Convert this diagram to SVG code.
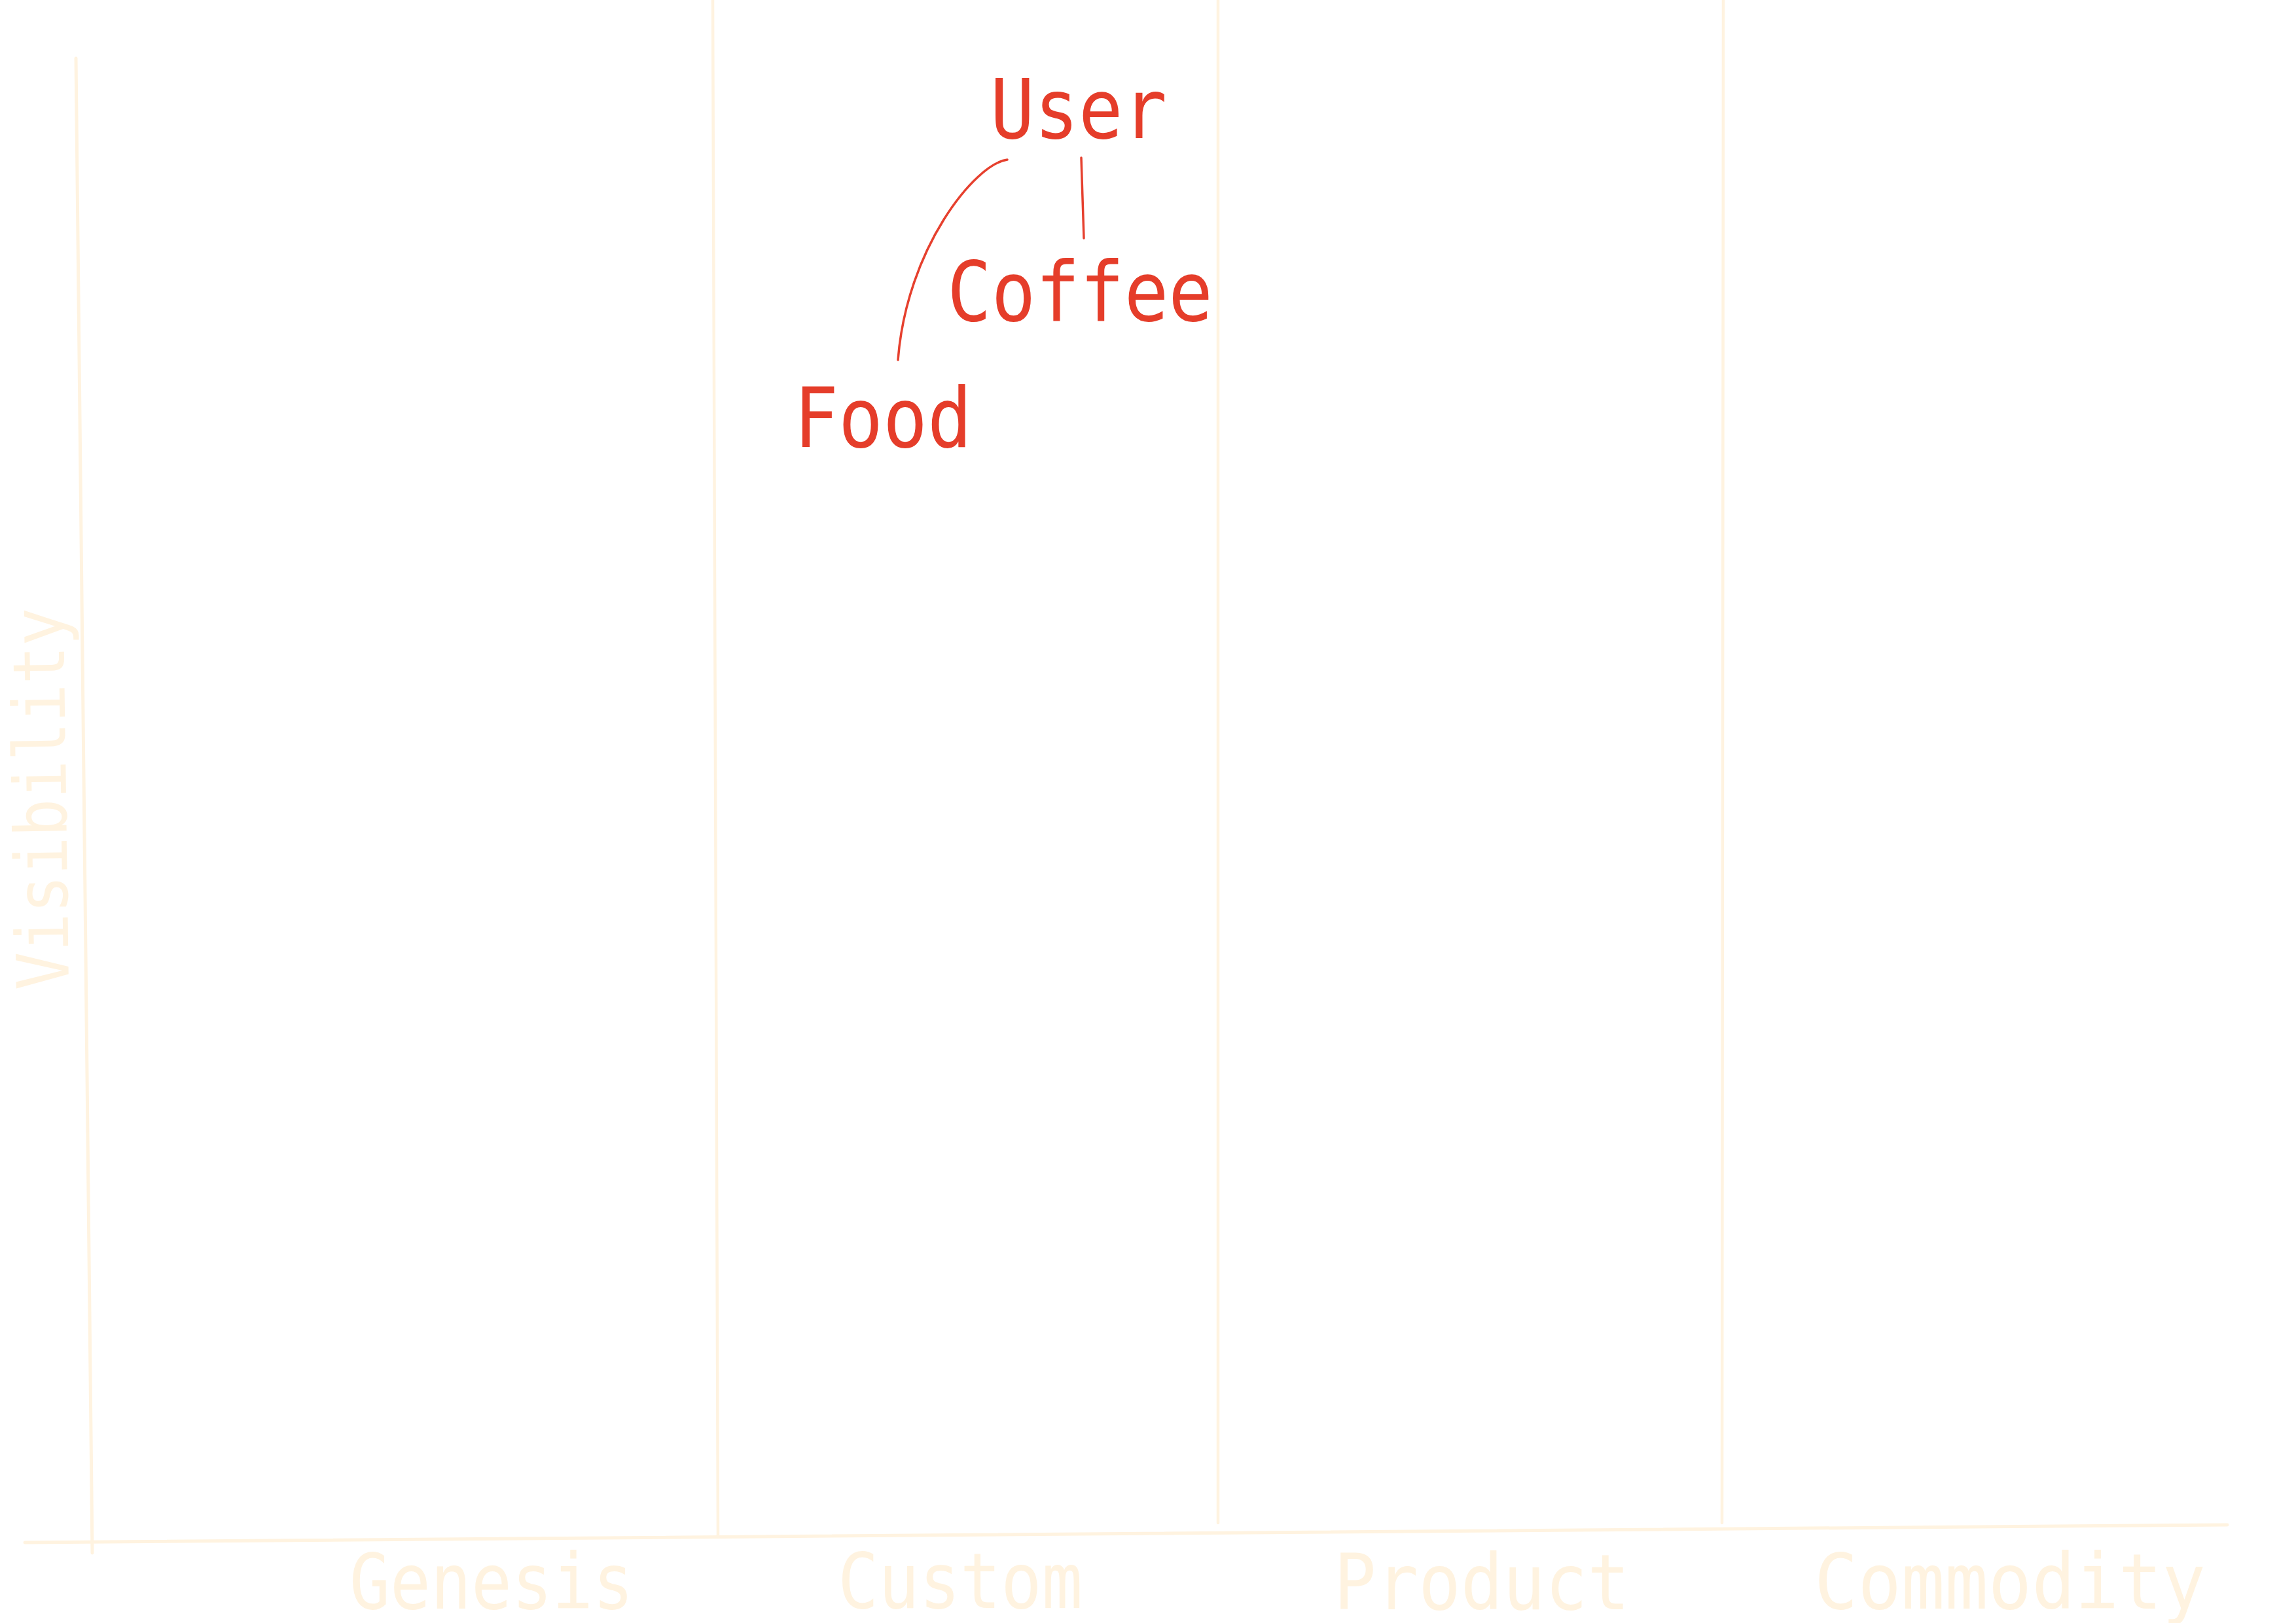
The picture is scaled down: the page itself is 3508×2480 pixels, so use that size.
<svg xmlns="http://www.w3.org/2000/svg" width="3508" height="2480" viewBox="0 0 3508 2480">
  <style>
    .axis { stroke: #fff3e0; stroke-width: 5; fill: none; stroke-linecap: round; }
    .sep { stroke: #fff3e0; stroke-width: 4.5; fill: none; stroke-linecap: round; }
    .alabel { font-family: "DejaVu Sans Mono", "Liberation Mono", monospace; font-size: 117px; fill: #fff3e0; }
    .node { font-family: "DejaVu Sans Mono", "Liberation Mono", monospace; font-size: 127px; fill: #e53d2a; }
    .link { stroke: #e6402e; stroke-width: 3.5; fill: none; stroke-linecap: round; }
  </style>
  <rect width="3508" height="2480" fill="#ffffff"/>
  <g id="axes">
    <line class="axis" x1="116" y1="89" x2="141" y2="2373"/>
    <line class="axis" x1="38" y1="2357" x2="3403" y2="2330"/>
    <line class="sep" x1="1089" y1="0" x2="1097" y2="2349"/>
    <line class="sep" x1="1861" y1="0" x2="1861" y2="2327"/>
    <line class="sep" x1="2633" y1="0" x2="2631" y2="2327"/>
    <text class="alabel" x="534" y="2458" textLength="434" lengthAdjust="spacingAndGlyphs">Genesis</text>
    <text class="alabel" x="1280" y="2457" textLength="374" lengthAdjust="spacingAndGlyphs">Custom</text>
    <text class="alabel" x="2038" y="2459" textLength="452" lengthAdjust="spacingAndGlyphs">Product</text>
    <text class="alabel" x="2772" y="2458" textLength="598" lengthAdjust="spacingAndGlyphs">Commodity</text>
    <text class="alabel" style="font-size:110px" transform="translate(105,1512) rotate(-90.8)" textLength="584" lengthAdjust="spacingAndGlyphs">Visibility</text>
  </g>
  <g id="connectors">
    <path class="link" d="M1539,244 C1490,250 1385,380 1372,550"/>
    <path class="link" d="M1652,241 L1656,364"/>
  </g>
  <g id="node-user">
    <text class="node" x="1513" y="211" textLength="270" lengthAdjust="spacingAndGlyphs">User</text>
  </g>
  <g id="node-coffee">
    <text class="node" x="1447" y="490" textLength="406" lengthAdjust="spacingAndGlyphs">Coffee</text>
  </g>
  <g id="node-food">
    <text class="node" x="1213" y="683" textLength="272" lengthAdjust="spacingAndGlyphs">Food</text>
  </g>
</svg>
